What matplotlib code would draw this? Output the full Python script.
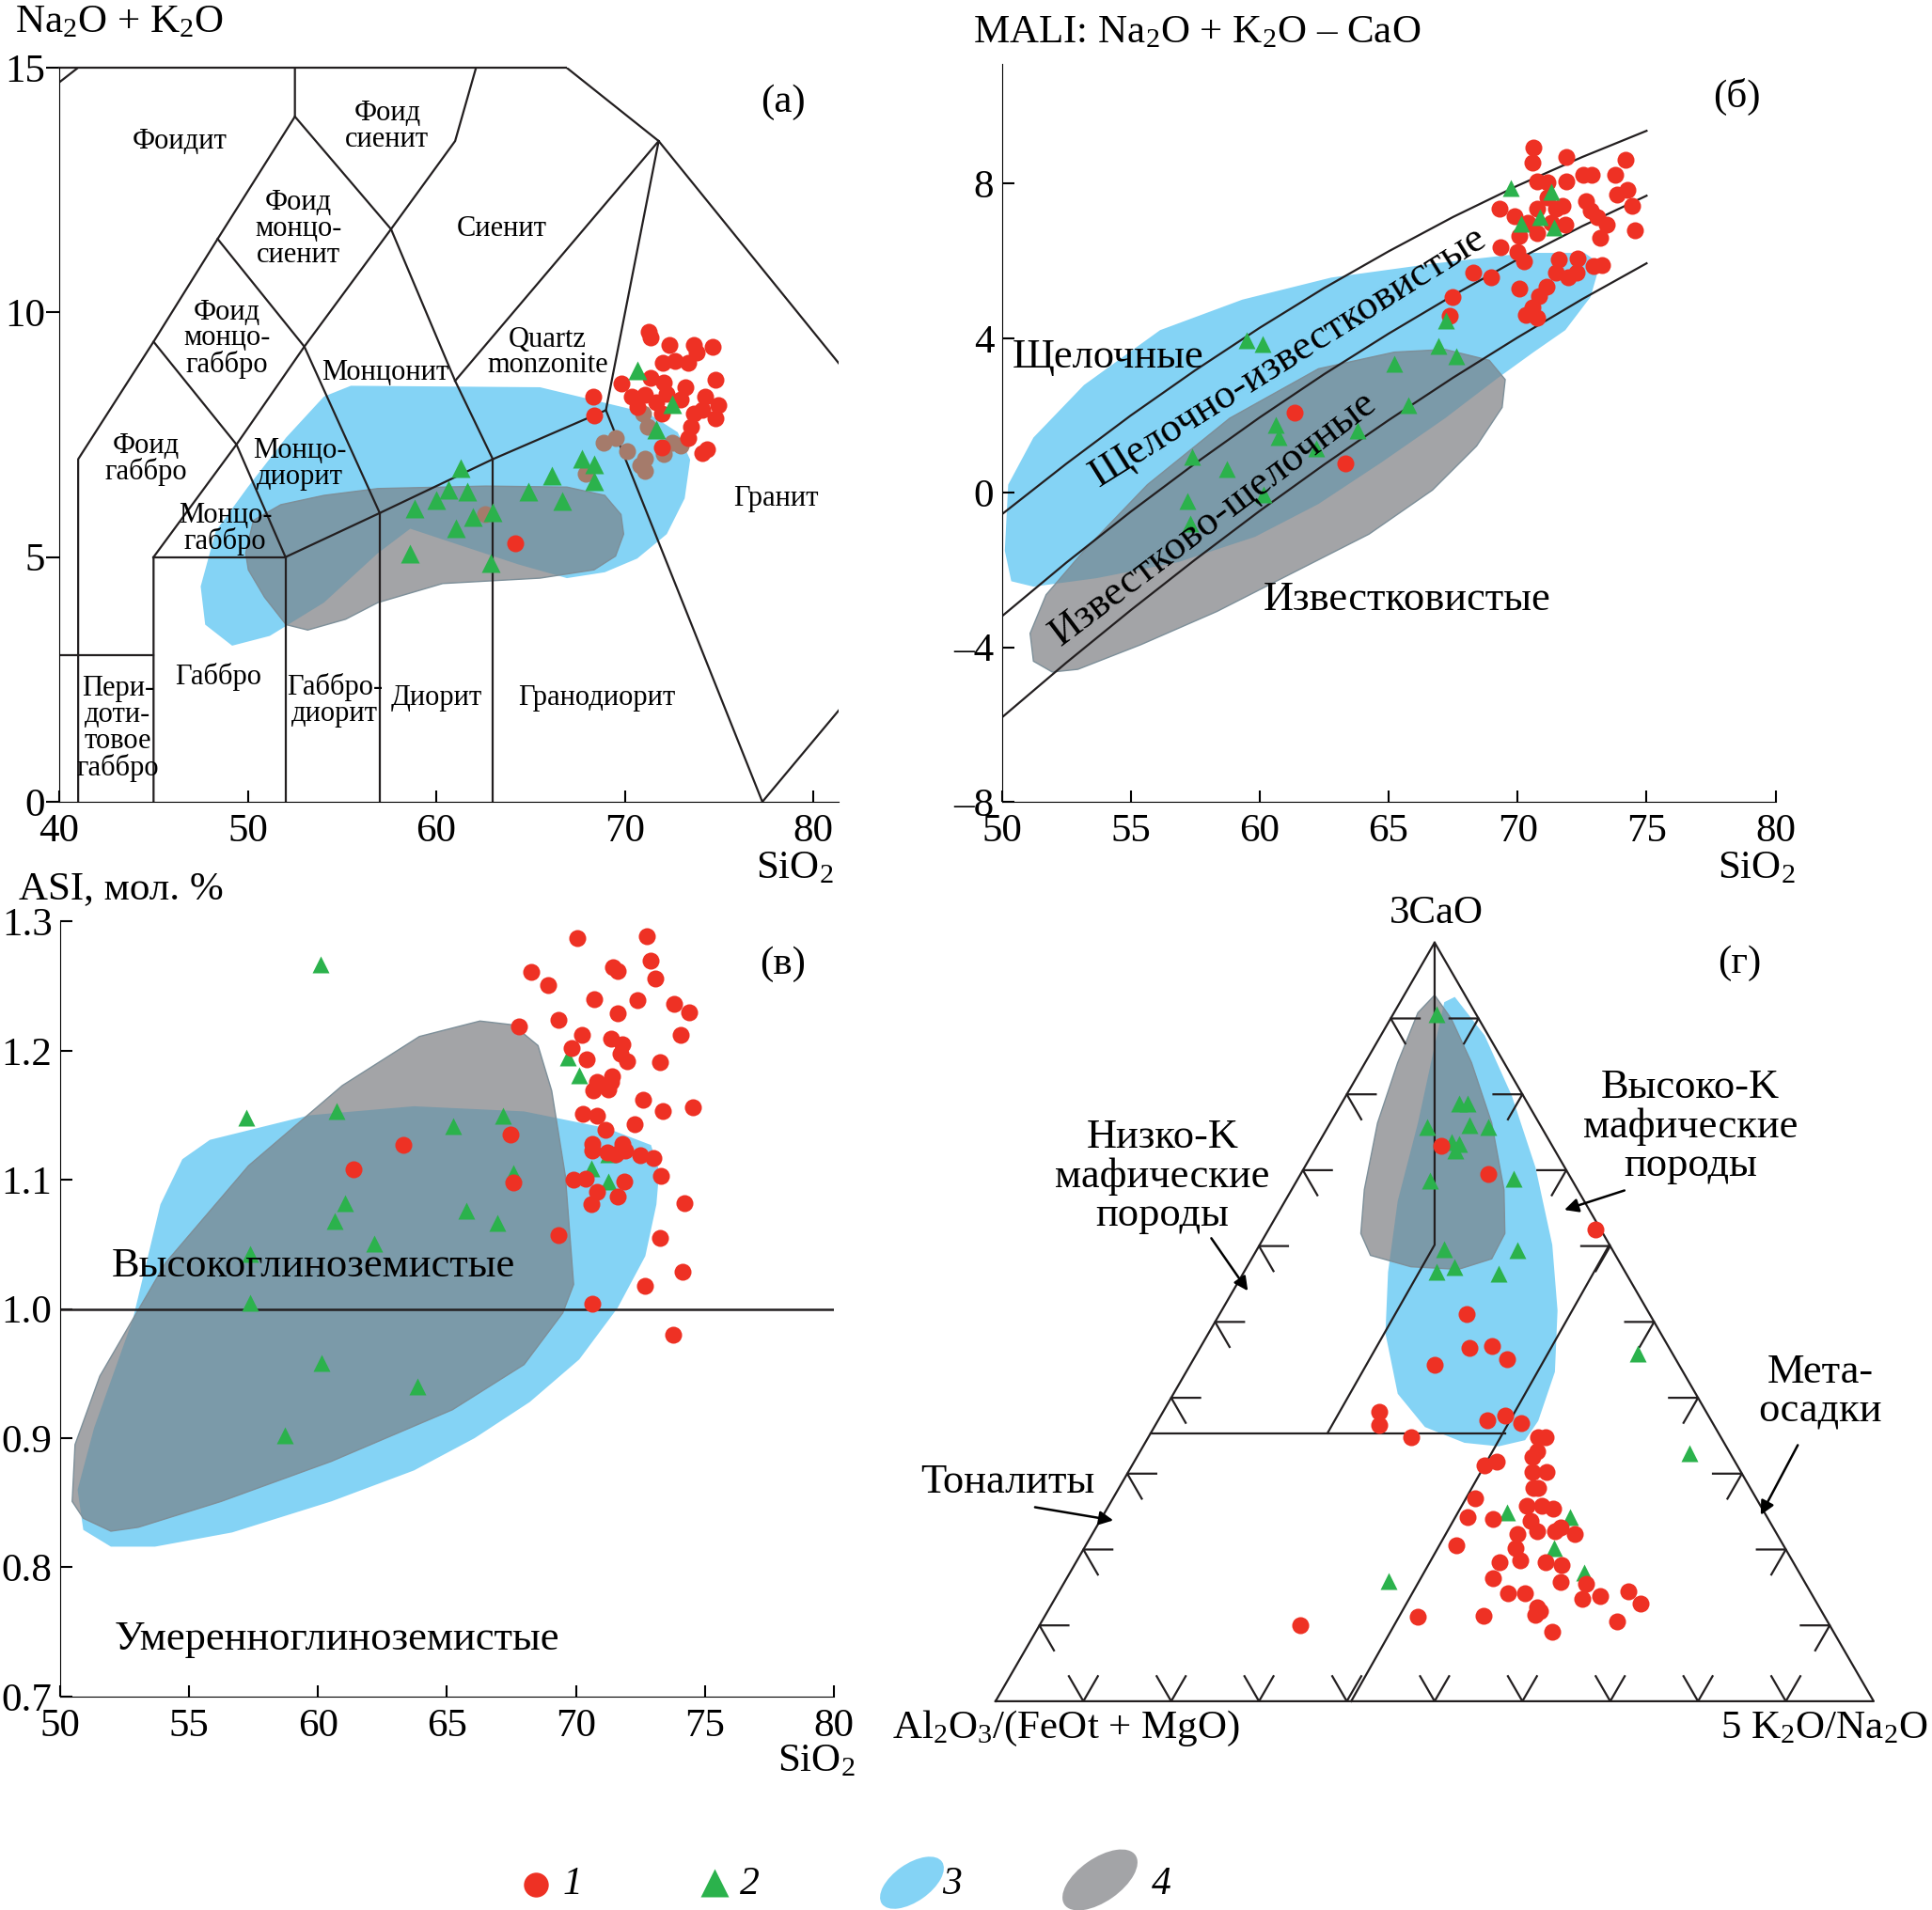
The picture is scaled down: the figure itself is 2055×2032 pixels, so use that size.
import numpy as np
import matplotlib
matplotlib.use('Agg')
import matplotlib.pyplot as plt
from matplotlib.patches import Polygon, Ellipse

plt.rcParams['font.family'] = ['Liberation Serif', 'DejaVu Serif']
plt.rcParams['mathtext.fontset'] = 'custom'
plt.rcParams['mathtext.rm'] = 'Liberation Serif'
plt.rcParams['mathtext.it'] = 'Liberation Serif:italic'
plt.rcParams['mathtext.default'] = 'regular'

RED = '#ee3124'
GREEN = '#2bb24c'
BROWN = '#a57b6b'
BLUE = '#84d3f5'
GRAY = '#a3a4a7'
OVER = '#7b9aa9'
GEDGE = '#7d8f99'
LINE = '#231f20'
FS = 31      # tick labels, axis titles
FS_LAB = 32  # field labels in (б), (в), (г)
MS_TRI = 14

# ---------------- (а) TAS data ----------------
tas_red_x = [71.29, 71.37, 72.38, 73.67, 73.81, 74.67, 72.03, 72.66, 73.38, 71.37, 72.09, 69.8, 74.81,
             73.24, 70.37, 71.09, 72.23, 68.31, 71.66, 72.95, 74.24, 74.96, 70.66, 74.1, 68.37, 71.95,
             73.67, 74.81, 73.52, 73.38, 74.38, 74.1, 71.95, 64.21]
tas_red_y = [9.61, 9.49, 9.33, 9.33, 9.18, 9.29, 8.96, 9.01, 8.96, 8.67, 8.56, 8.54, 8.62,
             8.47, 8.28, 8.31, 8.34, 8.28, 8.17, 8.22, 8.28, 8.11, 8.06, 8.0, 7.89, 7.94,
             7.94, 7.83, 7.66, 7.44, 7.21, 7.12, 7.24, 5.28]
tas_green_x = [70.66, 72.52, 71.66, 61.29, 67.74, 68.37, 68.37, 66.13, 64.87, 66.7, 60.63, 61.66,
               60.0, 58.85, 62.98, 61.92, 61.06, 58.62, 62.87]
tas_green_y = [8.81, 8.13, 7.61, 6.82, 7.01, 6.9, 6.54, 6.67, 6.34, 6.15, 6.37, 6.34,
               6.17, 6.0, 5.92, 5.81, 5.58, 5.08, 4.88]
tas_brown_x = [68.88, 69.51, 70.14, 71.09, 70.8, 71.09, 67.94, 71.23, 72.09, 72.52, 72.95, 70.95, 62.58]
tas_brown_y = [7.33, 7.44, 7.16, 7.01, 6.88, 6.76, 6.71, 7.66, 7.1, 7.33, 7.27, 7.94, 5.87]

tas_blue = [(49.17, 3.19), (47.74, 3.62), (47.5, 4.4), (48.3, 5.53), (50.0, 6.43), (52.03, 7.44),
            (54.04, 8.28), (55.47, 8.5), (65.5, 8.47), (71.23, 7.94), (72.81, 7.55), (73.47, 6.99),
            (73.18, 6.2), (72.23, 5.47), (70.66, 4.97), (68.94, 4.69), (66.93, 4.57), (64.36, 4.85),
            (61.2, 5.25), (58.62, 5.58), (56.9, 5.08), (54.04, 4.07), (51.17, 3.39)]
tas_gray = [(49.89, 5.08), (50.3, 5.75), (51.75, 6.07), (54.04, 6.26), (56.9, 6.4), (62.64, 6.45),
            (66.93, 6.43), (68.94, 6.26), (69.8, 5.87), (69.94, 5.47), (69.51, 5.02), (68.37, 4.74),
            (65.5, 4.57), (60.34, 4.46), (56.9, 4.07), (55.19, 3.73), (53.18, 3.51), (52.03, 3.62),
            (50.89, 4.18), (50.03, 4.74)]

tas_lines = [
    [(41, 0), (41, 7), (45, 9.4), (48.4, 11.5), (52.5, 14), (52.5, 15)],
    [(40, 3), (45, 3)],
    [(45, 0), (45, 5), (49.4, 7.3), (53, 9.3), (57.6, 11.7), (61, 13.5), (63, 16.2)],
    [(45, 9.4), (49.4, 7.3), (52, 5), (57, 5.9), (63, 7), (69, 8), (71.8, 13.5), (85.9, 6.8)],
    [(45, 5), (52, 5)],
    [(52, 0), (52, 5)],
    [(57, 0), (57, 5.9)],
    [(63, 0), (63, 7)],
    [(48.4, 11.5), (53, 9.3), (57, 5.9)],
    [(52.5, 14), (57.6, 11.7), (61, 8.6), (63, 7)],
    [(61, 8.6), (71.8, 13.5)],
    [(63, 16.2), (71.8, 13.5)],
    [(69, 8), (77.3, 0), (87.5, 4.7)],
    [(40, 14.7), (41, 15)],
]
tas_names = ['Фоидит', 'Фоид\nсиенит', 'Фоид\nмонцо-\nсиенит', 'Сиенит', 'Фоид\nмонцо-\nгаббро',
             'Монцонит', 'Quartz\nmonzonite', 'Фоид\nгаббро', 'Монцо-\nдиорит', 'Монцо-\nгаббро',
             'Гранит', 'Пери-\nдоти-\nтовое\nгаббро', 'Габбро', 'Габбро-\nдиорит', 'Диорит',
             'Гранодиорит']
tas_name_x = [46.4, 57.4, 52.7, 63.5, 48.9, 57.3, 65.9, 44.6, 52.75, 48.8, 78.0, 43.1, 48.45, 54.6,
              60.0, 68.5]
tas_name_y = [13.5, 13.8, 11.7, 11.7, 9.46, 8.76, 9.18, 7.0, 6.9, 5.58, 6.2, 1.5, 2.55, 2.07, 2.13,
              2.13]

# ---------------- (б) MALI data ----------------
mali_x = [50, 52.5, 55, 57.5, 60, 62.5, 65, 67.5, 70, 72.5, 75]
mali_line1 = [-0.56, 0.75, 2.0, 3.17, 4.27, 5.3, 6.25, 7.14, 7.95, 8.69, 9.37]
mali_line2 = [-3.2, -1.81, -0.49, 0.76, 1.95, 3.07, 4.12, 5.11, 6.04, 6.9, 7.69]
mali_line3 = [-5.82, -4.4, -3.04, -1.73, -0.47, 0.73, 1.88, 2.98, 4.02, 5.01, 5.94]

mali_red_x = [70.62, 70.57, 71.9, 74.18, 70.75, 71.16, 71.9, 72.54, 72.88, 73.77, 74.26, 73.86, 71.16,
              72.64, 69.3, 69.89, 70.75, 71.48, 71.73, 72.83, 74.43, 73.08, 70.38, 71.31, 71.85, 73.45,
              70.08, 70.75, 74.55, 73.2, 69.35, 70.0, 70.26, 71.61, 72.34, 73.28, 72.96, 71.48, 71.97,
              72.29, 68.29, 68.98, 70.08, 71.11, 70.82, 67.48, 67.38, 70.33, 70.75, 70.57, 61.37, 63.31]
mali_red_y = [8.93, 8.54, 8.69, 8.61, 8.07, 8.03, 8.07, 8.24, 8.24, 8.24, 7.83, 7.71, 7.64,
              7.54, 7.36, 7.17, 7.36, 7.36, 7.43, 7.31, 7.43, 7.14, 7.0, 7.0, 6.93, 6.93,
              6.64, 6.71, 6.79, 6.61, 6.36, 6.24, 6.0, 6.04, 6.07, 5.9, 5.86, 5.71, 5.57,
              5.71, 5.71, 5.57, 5.29, 5.33, 5.1, 5.07, 4.57, 4.61, 4.53, 4.81, 2.07, 0.76]
mali_green_x = [69.72, 70.13, 70.87, 71.31, 71.41, 67.24, 59.5, 60.12, 65.22, 66.94, 67.63, 65.76,
                60.63, 60.75, 63.8, 57.37, 58.72, 62.2, 57.19, 60.14, 57.32]
mali_green_y = [7.89, 6.96, 7.14, 7.79, 6.86, 4.46, 3.96, 3.86, 3.33, 3.81, 3.53, 2.26,
                1.76, 1.43, 1.61, 0.93, 0.61, 1.14, -0.21, -0.04, -0.79]
mali_blue = [(50.37, -2.29), (50.12, -1.5), (50.25, 0.21), (51.23, 1.43), (53.19, 2.79), (56.14, 4.21),
             (59.33, 5.0), (62.77, 5.57), (66.7, 5.93), (70.38, 6.21), (72.59, 6.21), (73.2, 5.93),
             (72.83, 5.07), (71.85, 4.21), (70.62, 3.64), (69.15, 2.93), (67.19, 1.93), (64.73, 0.79),
             (62.28, -0.29), (59.82, -1.14), (56.87, -1.79), (53.68, -2.21), (51.23, -2.43)]
mali_gray = [(51.23, -4.36), (51.1, -3.64), (51.72, -2.64), (53.19, -1.5), (55.65, 0.21), (58.84, 1.93),
             (62.28, 3.21), (65.22, 3.64), (67.19, 3.71), (68.9, 3.43), (69.52, 2.93), (69.4, 2.21),
             (68.41, 1.21), (66.7, 0.07), (64.24, -1.07), (61.29, -2.07), (58.35, -3.07), (55.4, -3.93),
             (52.95, -4.57), (51.96, -4.64)]

# ---------------- (в) ASI data ----------------
asi_red_x = [70.06, 72.76, 72.91, 68.27, 71.45, 71.62, 73.06, 68.93, 70.7, 72.37, 73.8, 74.38, 71.62,
             69.32, 67.78, 70.23, 74.06, 71.37, 71.79, 69.83, 71.73, 71.99, 70.41, 73.25, 71.4, 70.83,
             71.35, 70.66, 71.26, 72.6, 70.28, 70.83, 73.35, 74.53, 71.13, 72.29, 67.46, 63.29, 70.62,
             70.62, 71.79, 71.9, 71.2, 71.56, 72.5, 72.99, 61.37, 69.91, 70.38, 67.59, 71.86, 73.29,
             70.81, 70.6, 71.62, 74.21, 69.34, 73.25, 74.15, 72.67, 70.62, 73.78]
asi_red_y = [1.287, 1.289, 1.27, 1.261, 1.265, 1.262, 1.256, 1.251, 1.24, 1.239, 1.236, 1.23, 1.229,
             1.224, 1.219, 1.212, 1.212, 1.209, 1.205, 1.202, 1.198, 1.192, 1.193, 1.191, 1.18, 1.176,
             1.176, 1.169, 1.17, 1.162, 1.151, 1.15, 1.153, 1.156, 1.139, 1.143, 1.135, 1.127, 1.128,
             1.123, 1.128, 1.123, 1.121, 1.12, 1.119, 1.117, 1.108, 1.1, 1.101, 1.098, 1.099, 1.103,
             1.091, 1.081, 1.087, 1.082, 1.057, 1.055, 1.029, 1.018, 1.004, 0.98]
asi_green_x = [60.09, 57.22, 69.68, 70.11, 60.73, 67.18, 65.24, 70.58, 67.59, 71.26, 71.26, 61.05, 60.66,
               65.75, 66.97, 62.16, 57.37, 57.37, 60.15, 63.85, 58.72]
asi_green_y = [1.267, 1.148, 1.195, 1.181, 1.153, 1.15, 1.142, 1.109, 1.105, 1.099, 1.12, 1.082, 1.068,
               1.076, 1.067, 1.051, 1.043, 1.005, 0.958, 0.94, 0.902]
asi_blue = [(54.74, 1.116), (55.81, 1.131), (59.66, 1.15), (63.72, 1.157), (67.99, 1.153), (71.2, 1.14),
            (72.91, 1.127), (73.23, 1.107), (73.12, 1.081), (72.69, 1.041), (71.62, 1.001), (70.13, 0.961),
            (68.21, 0.928), (66.07, 0.9), (63.72, 0.875), (60.51, 0.851), (56.67, 0.827), (53.68, 0.816),
            (51.97, 0.816), (50.9, 0.829), (50.68, 0.86), (51.32, 0.908), (52.82, 0.992), (53.89, 1.081)]
asi_gray = [(50.47, 0.851), (50.58, 0.895), (51.54, 0.948), (54.1, 1.036), (57.31, 1.111), (60.94, 1.173),
            (63.93, 1.211), (66.28, 1.223), (67.56, 1.22), (68.53, 1.204), (69.06, 1.169), (69.59, 1.103),
            (69.91, 1.019), (69.49, 0.997), (67.99, 0.957), (65.21, 0.922), (60.51, 0.882), (56.24, 0.851),
            (53.03, 0.831), (51.97, 0.828), (50.9, 0.838)]

# ---------------- (г) ternary data (x, y in triangle of side 1) ----------------
ter_red_x = [0.508, 0.561, 0.683, 0.537, 0.54, 0.565, 0.582, 0.5, 0.437, 0.437, 0.473, 0.56, 0.58, 0.599,
             0.618, 0.626, 0.617, 0.611, 0.557, 0.571, 0.611, 0.628, 0.612, 0.618, 0.546, 0.605, 0.622,
             0.635, 0.538, 0.566, 0.609, 0.594, 0.617, 0.637, 0.66, 0.644, 0.525, 0.592, 0.574, 0.597,
             0.626, 0.645, 0.566, 0.643, 0.672, 0.584, 0.603, 0.668, 0.689, 0.721, 0.735, 0.617, 0.62,
             0.615, 0.481, 0.556, 0.708, 0.634, 0.347]
ter_red_y = [0.634, 0.602, 0.539, 0.442, 0.403, 0.405, 0.391, 0.384, 0.33, 0.315, 0.301, 0.321, 0.326,
             0.317, 0.301, 0.301, 0.285, 0.279, 0.269, 0.273, 0.262, 0.262, 0.244, 0.244, 0.232, 0.223,
             0.223, 0.22, 0.21, 0.208, 0.206, 0.191, 0.194, 0.194, 0.191, 0.198, 0.178, 0.175, 0.159,
             0.161, 0.159, 0.156, 0.14, 0.136, 0.134, 0.123, 0.123, 0.117, 0.12, 0.125, 0.112, 0.107,
             0.103, 0.099, 0.096, 0.098, 0.091, 0.079, 0.087]
ter_green_x = [0.502, 0.528, 0.538, 0.492, 0.54, 0.561, 0.519, 0.528, 0.524, 0.495, 0.59, 0.511, 0.594,
               0.523, 0.502, 0.573, 0.731, 0.79, 0.582, 0.654, 0.636, 0.67, 0.448]
ter_green_y = [0.784, 0.682, 0.682, 0.656, 0.658, 0.655, 0.638, 0.636, 0.629, 0.594, 0.597, 0.516, 0.515,
               0.496, 0.49, 0.488, 0.397, 0.283, 0.216, 0.21, 0.175, 0.147, 0.137]
ter_blue = [(0.523, 0.804), (0.557, 0.76), (0.588, 0.691), (0.615, 0.609), (0.634, 0.521), (0.64, 0.446),
            (0.637, 0.376), (0.618, 0.32), (0.603, 0.298), (0.573, 0.291), (0.534, 0.295), (0.489, 0.313),
            (0.458, 0.351), (0.444, 0.42), (0.447, 0.49), (0.458, 0.571), (0.481, 0.66), (0.5, 0.748),
            (0.511, 0.798)]
ter_gray = [(0.5, 0.806), (0.519, 0.779), (0.542, 0.729), (0.565, 0.66), (0.579, 0.584), (0.58, 0.534),
            (0.565, 0.505), (0.527, 0.493), (0.473, 0.496), (0.427, 0.509), (0.416, 0.534), (0.42, 0.584),
            (0.435, 0.66), (0.458, 0.729), (0.481, 0.786)]
H = np.sqrt(3) / 2
ter_lines = [
    [(0, 0), (1, 0), (0.5, H), (0, 0)],
    [(0.5, H), (0.5, 0.521), (0.378, 0.306)],
    [(0.1767, 0.306), (0.58, 0.306)],
    [(0.699, 0.521), (0.405, 0)],
]
tick_frac = [0.1, 0.2, 0.3, 0.4, 0.5, 0.6, 0.7, 0.8, 0.9]


def draw_fields(ax, blue_xy, gray_xy):
    blue = Polygon(blue_xy, closed=True, fc=BLUE, ec='none', zorder=1)
    ax.add_patch(blue)
    ax.add_patch(Polygon(gray_xy, closed=True, fc=GRAY, ec='none', zorder=1.1))
    over = Polygon(gray_xy, closed=True, fc=OVER, ec='none', zorder=1.2)
    ax.add_patch(over)
    over.set_clip_path(blue)
    ax.add_patch(Polygon(gray_xy, closed=True, fill=False, ec=GEDGE, lw=1.0, zorder=1.3))


fig = plt.figure(figsize=(20.55, 20.32), dpi=100)

# ---------- (а) ----------
ax1 = fig.add_axes([0.0307, 0.5802, 0.4034, 0.3844])
ax1.set_xlim(40, 81.35)
ax1.set_ylim(0, 15)
draw_fields(ax1, tas_blue, tas_gray)
for ln in tas_lines:
    xs, ys = zip(*ln)
    ax1.plot(xs, ys, color=LINE, lw=1.6, zorder=2)
ax1.plot([40, 66.9], [15, 15], color=LINE, lw=1.6, zorder=2, clip_on=False)
for name, x, y in zip(tas_names, tas_name_x, tas_name_y):
    ax1.text(x, y, name, fontsize=22, ha='center', va='center', linespacing=0.95, zorder=4)
ax1.plot(tas_brown_x, tas_brown_y, 'o', color=BROWN, ms=13, mec='none', zorder=3)
ax1.plot(tas_red_x, tas_red_y, 'o', color=RED, ms=13, mec='none', zorder=3)
ax1.plot(tas_green_x, tas_green_y, '^', color=GREEN, ms=MS_TRI, mec='none', zorder=3)
ax1.text(78.4, 14.3, '(а)', fontsize=FS, ha='center', va='center')
ax1.spines['top'].set_visible(False)
ax1.spines['right'].set_visible(False)
ax1.set_xticks([40, 50, 60, 70, 80])
ax1.set_yticks([0, 5, 10, 15])
ax1.tick_params(axis='x', direction='in', length=9, width=1.5, labelsize=FS, pad=9)
ax1.tick_params(axis='y', direction='out', length=10, width=1.5, labelsize=FS, pad=1)

# ---------- (б) ----------
ax2 = fig.add_axes([0.5185, 0.5802, 0.4005, 0.3863])
ax2.set_xlim(50, 80)
ax2.set_ylim(-8, 11.1)
draw_fields(ax2, mali_blue, mali_gray)
for ln in [mali_line1, mali_line2, mali_line3]:
    ax2.plot(mali_x, ln, color=LINE, lw=1.6, zorder=2)
ax2.plot(mali_red_x, mali_red_y, 'o', color=RED, ms=13, mec='none', zorder=3)
ax2.plot(mali_green_x, mali_green_y, '^', color=GREEN, ms=MS_TRI - 1, mec='none', zorder=3)
ax2.text(50.4, 3.5, 'Щелочные', fontsize=FS_LAB, ha='left', va='center', zorder=4)
ax2.text(61.1, 3.53, 'Щелочно-известковистые', fontsize=FS_LAB, ha='center', va='center',
         rotation=32, rotation_mode='anchor', zorder=4)
ax2.text(58.2, -0.67, 'Известково-щелочные', fontsize=FS_LAB, ha='center', va='center',
         rotation=37, rotation_mode='anchor', zorder=4)
ax2.text(65.7, -2.76, 'Известковистые', fontsize=FS_LAB, ha='center', va='center', zorder=4)
ax2.text(78.5, 10.24, '(б)', fontsize=FS, ha='center', va='center')
ax2.spines['top'].set_visible(False)
ax2.spines['right'].set_visible(False)
ax2.set_xticks([50, 55, 60, 65, 70, 75, 80])
ax2.set_yticks([-8, -4, 0, 4, 8])
ax2.set_yticklabels(['–8', '–4', '0', '4', '8'])
ax2.tick_params(direction='in', length=9, width=1.5, labelsize=FS, pad=6)
ax2.tick_params(axis='x', pad=9)

# ---------- (в) ----------
ax3 = fig.add_axes([0.0311, 0.1118, 0.4005, 0.4057])
ax3.set_xlim(50, 80)
ax3.set_ylim(0.7, 1.3)
draw_fields(ax3, asi_blue, asi_gray)
ax3.axhline(1.0, color=LINE, lw=1.8, zorder=2)
ax3.plot(asi_green_x, asi_green_y, '^', color=GREEN, ms=MS_TRI - 1, mec='none', zorder=3)
ax3.plot(asi_red_x, asi_red_y, 'o', color=RED, ms=13, mec='none', zorder=3)
ax3.text(52.0, 1.033, 'Высокоглиноземистые', fontsize=FS_LAB, ha='left', va='center', zorder=4)
ax3.text(52.1, 0.744, 'Умеренноглиноземистые', fontsize=FS_LAB, ha='left', va='center', zorder=4)
ax3.text(78.0, 1.267, '(в)', fontsize=FS, ha='center', va='center')
ax3.spines['top'].set_visible(False)
ax3.spines['right'].set_visible(False)
ax3.set_xticks([50, 55, 60, 65, 70, 75, 80])
ax3.set_yticks([0.7, 0.8, 0.9, 1.0, 1.1, 1.2, 1.3])
ax3.tick_params(direction='in', length=9, width=1.5, labelsize=FS, pad=6)
ax3.tick_params(axis='x', pad=9)

# ---------- (г) ----------
ax4 = fig.add_axes([0.5153, 0.1093, 0.4545, 0.3972])
ax4.set_xlim(0, 1)
ax4.set_ylim(0, H)
ax4.axis('off')
draw_fields(ax4, ter_blue, ter_gray)
for ln in ter_lines:
    xs, ys = zip(*ln)
    ax4.plot(xs, ys, color=LINE, lw=1.6, zorder=2, clip_on=False)
L = 0.033
for f in tick_frac:
    # bottom edge
    ax4.plot([f - 0.5 * L, f, f + 0.5 * L], [H * L, 0, H * L], color=LINE, lw=1.6, zorder=2, clip_on=False)
    # left edge
    x0, y0 = 0.5 * f, H * f
    ax4.plot([x0 + L, x0, x0 + 0.5 * L], [y0, y0, y0 - H * L], color=LINE, lw=1.6, zorder=2, clip_on=False)
    # right edge
    x0 = 1 - 0.5 * f
    ax4.plot([x0 - L, x0, x0 - 0.5 * L], [y0, y0, y0 - H * L], color=LINE, lw=1.6, zorder=2, clip_on=False)
ax4.plot(ter_green_x, ter_green_y, '^', color=GREEN, ms=MS_TRI - 1, mec='none', zorder=3)
ax4.plot(ter_red_x, ter_red_y, 'o', color=RED, ms=13, mec='none', zorder=3)
ax4.text(0.502, 0.899, '3CaO', fontsize=FS, ha='center', va='center')
ax4.text(0.08, -0.031, 'Al$_2$O$_3$/(FeOt + MgO)', fontsize=FS, ha='center', va='center')
ax4.text(0.943, -0.031, '5 K$_2$O/Na$_2$O', fontsize=FS, ha='center', va='center')
ax4.text(0.847, 0.842, '(г)', fontsize=FS, ha='center', va='center')
ax4.text(0.791, 0.656, 'Высоко-K\nмафические\nпороды', fontsize=FS_LAB, ha='center', va='center',
         linespacing=1.05)
ax4.text(0.19, 0.599, 'Низко-K\nмафические\nпороды', fontsize=FS_LAB, ha='center', va='center',
         linespacing=1.05)
ax4.text(0.014, 0.25, 'Тоналиты', fontsize=FS_LAB, ha='center', va='center')
ax4.text(0.939, 0.353, 'Мета-\nосадки', fontsize=FS_LAB, ha='center', va='center', linespacing=1.05)
arrows = [((0.719, 0.584), (0.645, 0.56)), ((0.244, 0.531), (0.289, 0.466)),
          ((0.042, 0.222), (0.137, 0.206)), ((0.915, 0.295), (0.87, 0.21))]
for a, b in arrows:
    ax4.annotate('', xy=b, xytext=a, annotation_clip=False,
                 arrowprops=dict(arrowstyle='-|>', color='black', lw=1.8, mutation_scale=22))

# ---------- axis titles ----------
fig.text(0.0078, 0.988, 'Na$_2$O + K$_2$O', fontsize=FS, ha='left', va='center')
fig.text(0.5037, 0.9827, 'MALI: Na$_2$O + K$_2$O – CaO', fontsize=FS, ha='left', va='center')
fig.text(0.0097, 0.5344, 'ASI, мол. %', fontsize=FS, ha='left', va='center')
fig.text(0.4112, 0.5453, 'SiO$_2$', fontsize=FS, ha='center', va='center')
fig.text(0.909, 0.5453, 'SiO$_2$', fontsize=FS, ha='center', va='center')
fig.text(0.4224, 0.0778, 'SiO$_2$', fontsize=FS, ha='center', va='center')

# ---------- legend ----------
axl = fig.add_axes([0, 0, 1, 1])
axl.set_xlim(0, 2055)
axl.set_ylim(2032, 0)
axl.axis('off')
axl.plot([570], [2005], 'o', color=RED, ms=19, mec='none')
axl.plot([760], [2003], '^', color=GREEN, ms=22, mec='none')
axl.add_patch(Ellipse((970, 2003), 78, 40, angle=-35, fc=BLUE, ec='none'))
axl.add_patch(Ellipse((1170, 2000), 92, 46, angle=-35, fc=GRAY, ec='none'))
for lab, x in zip(['1', '2', '3', '4'], [609, 797, 1013, 1235]):
    axl.text(x, 2005, lab, fontsize=30, style='italic', ha='center', va='center')

fig.savefig('out.png', dpi=100)
